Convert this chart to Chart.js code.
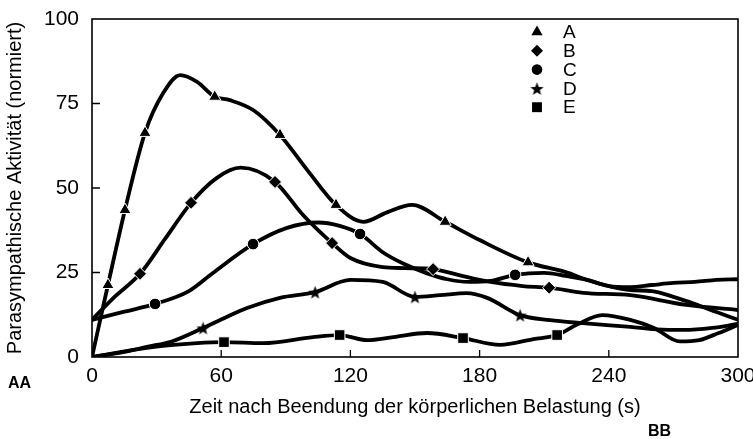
<!DOCTYPE html>
<html>
<head>
<meta charset="utf-8">
<script src="https://cdn.jsdelivr.net/npm/chart.js@4.4.0/dist/chart.umd.min.js"></script>
<style>
  html, body { margin: 0; padding: 0; background: #fff; }
  canvas { display: block; }
</style>
</head>
<body>
<canvas id="chart" width="753" height="439"></canvas>
<script>
// values: time after exercise (s) -> normalized activity
// *Mark = 1 where the original shows a symbol on the curve
const aX = [0, 7.4, 15.3, 24.6, 33, 41, 48.8, 57, 64, 75, 87.3, 100, 113.3, 126, 137, 148.6, 164, 180, 202.5, 220, 230, 240, 250, 260, 270, 280, 290, 300];
const aY = [0, 21.3, 43.5, 66.3, 78, 83.4, 81.4, 77, 76, 73, 65.7, 55.3, 45, 40, 42.8, 45, 40, 34.6, 28, 25.1, 22.8, 21, 19.8, 19.5, 17.8, 15.7, 13.3, 11];
const aMark = [0, 1, 1, 1, 0, 0, 0, 1, 0, 0, 1, 0, 1, 0, 0, 0, 1, 0, 1, 0, 0, 0, 0, 0, 0, 0, 0, 0];

const bX = [0, 10, 22.3, 34, 46, 58, 69, 85, 98, 111.5, 120, 135, 145, 158.4, 170, 185, 200, 212.3, 228, 250, 276, 300];
const bY = [11, 17.5, 24.6, 35, 45.6, 53, 56, 51.8, 42, 33.7, 29.3, 26.6, 26.3, 26, 24.3, 22.2, 21, 20.5, 19, 18.3, 15.4, 13.9];
const bMark = [0, 0, 1, 0, 1, 0, 0, 1, 0, 1, 0, 0, 0, 1, 0, 0, 0, 1, 0, 0, 0, 0];

const cX = [0, 15, 29.3, 45, 56, 74.8, 90.6, 105, 115, 124.5, 135, 145, 155, 165, 175, 185, 196.5, 210, 220, 230, 240, 250, 260, 270, 280, 290, 300];
const cY = [11, 13.4, 15.7, 19.5, 24.8, 33.4, 38.2, 39.8, 38.8, 36.4, 31, 27.5, 24.9, 23, 22.2, 22.5, 24.3, 24.9, 24, 22.8, 21, 20.7, 21.3, 21.9, 22.2, 22.8, 23];
const cMark = [0, 0, 1, 0, 0, 1, 0, 0, 0, 1, 0, 0, 0, 0, 0, 0, 1, 0, 0, 0, 0, 0, 0, 0, 0, 0, 0];

const dX = [0, 15, 25.5, 37, 51.6, 62, 72, 87.3, 103.6, 120, 135, 150, 161.6, 174, 183.5, 198.8, 212.7, 228, 250, 262, 275, 288, 300];
const dY = [0, 1.5, 3, 4.6, 8.6, 11.7, 14.5, 17.5, 19.2, 22.8, 22.2, 17.8, 18.3, 18.9, 17.5, 12.4, 10.9, 10, 8.9, 8.2, 8, 8.6, 9.8];
const dMark = [0, 0, 0, 0, 1, 0, 0, 0, 1, 0, 0, 1, 0, 0, 0, 1, 0, 0, 0, 0, 0, 0, 0];

const eX = [0, 25.5, 48.8, 61.3, 79.4, 102.6, 115, 127.7, 140, 155.6, 172.3, 189.5, 205, 216, 225, 237, 250, 261, 273, 282, 291, 300];
const eY = [0, 2.7, 4.1, 4.4, 4.1, 5.9, 6.5, 5, 5.9, 7.1, 5.6, 3.6, 5.3, 6.5, 9.5, 12.4, 11, 8.6, 4.6, 5, 7.1, 9.5];
const eMark = [0, 0, 0, 1, 0, 0, 1, 0, 0, 0, 1, 0, 0, 1, 0, 0, 0, 0, 0, 0, 0, 0];

const seriesNames = ["A", "B", "C", "D", "E"];
const xTicks = [0, 60, 120, 180, 240, 300];
const yTicks = [0, 25, 50, 75, 100];

const FONT = "'Liberation Sans', Arial, sans-serif";

// filled five-point star for series D
function makeStar(size) {
  const c = document.createElement("canvas");
  c.width = size;
  c.height = size;
  const g = c.getContext("2d");
  const cx = size / 2, cy = size / 2 + 0.8;
  const R = size / 2 - 0.5, r = R * 0.42;
  g.beginPath();
  for (let i = 0; i < 10; i++) {
    const ang = -Math.PI / 2 + i * Math.PI / 5;
    const rr = i % 2 ? r : R;
    g.lineTo(cx + rr * Math.cos(ang), cy + rr * Math.sin(ang));
  }
  g.closePath();
  g.fillStyle = "#000";
  g.fill();
  return c;
}
const star = makeStar(15);

function pts(xs, ys) {
  return xs.map((x, i) => ({ x: x, y: ys[i] }));
}

const styles = [
  { style: "triangle", r: 7 },
  { style: "rectRot", r: 6.5 },
  { style: "circle", r: 5.8 },
  { style: star, r: 7 },
  { style: "rect", r: 7.5 }
];
const series = [[aX, aY, aMark], [bX, bY, bMark], [cX, cY, cMark], [dX, dY, dMark], [eX, eY, eMark]];

const datasets = series.map((s, i) => ({
  label: seriesNames[i],
  data: pts(s[0], s[1]),
  borderColor: "#000",
  backgroundColor: "#000",
  borderWidth: 3.8,
  borderCapStyle: "round",
  borderJoinStyle: "round",
  cubicInterpolationMode: "monotone",
  pointStyle: styles[i].style,
  pointRadius: s[2].map(m => (m ? styles[i].r : 0)),
  pointBackgroundColor: "#000",
  pointBorderColor: "#fff",
  pointBorderWidth: 1
}));

// box round the plot, inward ticks, legend and the loose AA / BB labels
const decor = {
  id: "decor",
  afterDraw(chart) {
    const ctx = chart.ctx;
    const area = chart.chartArea;
    const xs = chart.scales.x, ys = chart.scales.y;
    ctx.save();
    ctx.strokeStyle = "#000";
    ctx.lineWidth = 1.6;
    ctx.strokeRect(area.left, area.top, area.right - area.left, area.bottom - area.top);

    ctx.lineWidth = 1.3;
    ctx.beginPath();
    xTicks.slice(1, -1).forEach(v => {
      const px = xs.getPixelForValue(v);
      ctx.moveTo(px, area.bottom);
      ctx.lineTo(px, area.bottom - 7);
    });
    yTicks.slice(1, -1).forEach(v => {
      const py = ys.getPixelForValue(v);
      ctx.moveTo(area.left, py);
      ctx.lineTo(area.left + 8, py);
    });
    ctx.stroke();

    // legend
    ctx.fillStyle = "#000";
    ctx.font = "19px " + FONT;
    ctx.textBaseline = "middle";
    ctx.textAlign = "left";
    chart.data.datasets.forEach((ds, i) => {
      const y = 32 + i * 18.8;
      Chart.helpers.drawPoint(ctx, {
        pointStyle: styles[i].style,
        radius: styles[i].r - 0.5,
        borderWidth: 0,
        rotation: 0
      }, 537, y);
      ctx.fillStyle = "#000";
      ctx.fillText(ds.label, 563, y + 1);
    });

    ctx.font = "bold 16px " + FONT;
    ctx.fillText("AA", 8, 384);
    ctx.fillText("BB", 648, 432);
    ctx.restore();
  }
};

new Chart(document.getElementById("chart"), {
  type: "line",
  data: { datasets: datasets },
  options: {
    responsive: false,
    animation: false,
    events: [],
    layout: { padding: { top: 19, right: 15, left: 0, bottom: 0 } },
    plugins: {
      legend: { display: false },
      tooltip: { enabled: false }
    },
    scales: {
      x: {
        type: "linear",
        min: 0,
        max: 300,
        afterBuildTicks: s => { s.ticks = xTicks.map(v => ({ value: v })); },
        grid: { display: false, drawTicks: false },
        border: { display: false },
        ticks: {
          color: "#000",
          font: { family: FONT, size: 21 },
          padding: 7,
          maxRotation: 0,
          autoSkip: false
        },
        title: {
          display: true,
          text: "Zeit nach Beendung der körperlichen Belastung (s)",
          color: "#000",
          font: { family: FONT, size: 20 },
          padding: { top: 0, bottom: 20 }
        },
        afterFit: s => { s.height = 82; s.paddingLeft = 0; s.paddingRight = 0; }
      },
      y: {
        type: "linear",
        min: 0,
        max: 100,
        afterBuildTicks: s => { s.ticks = yTicks.map(v => ({ value: v })); },
        grid: { display: false, drawTicks: false },
        border: { display: false },
        ticks: {
          color: "#000",
          font: { family: FONT, size: 21 },
          padding: 13
        },
        title: {
          display: true,
          text: "Parasympathische Aktivität (normiert)",
          color: "#000",
          font: { family: FONT, size: 20 },
          padding: { top: 3, bottom: 0 }
        },
        afterFit: s => { s.width = 92; s.paddingTop = 0; s.paddingBottom = 0; }
      }
    }
  },
  plugins: [decor]
});
</script>
</body>
</html>
